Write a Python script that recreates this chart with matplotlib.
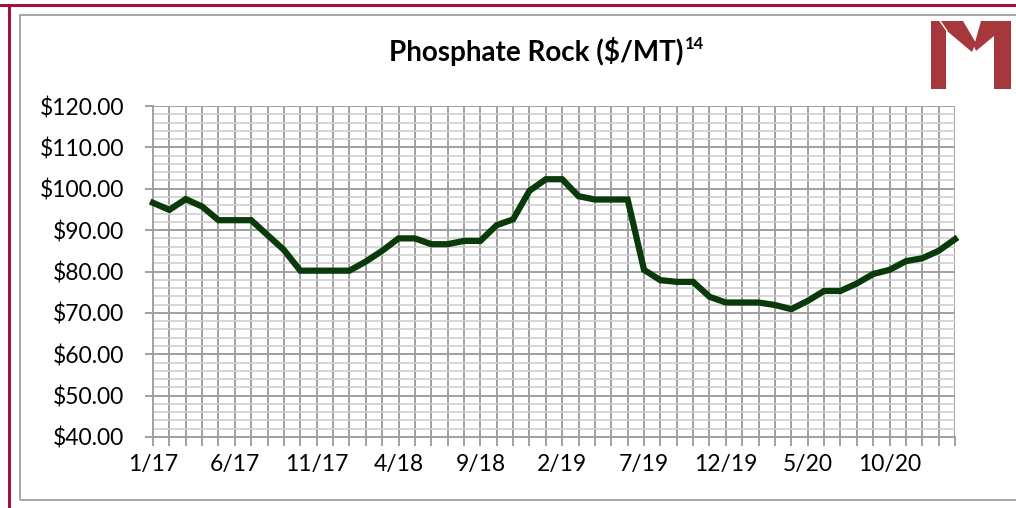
import matplotlib
matplotlib.use("Agg")
import matplotlib.pyplot as plt
from matplotlib.patches import Polygon, Rectangle
from matplotlib.lines import Line2D
from matplotlib.ticker import MultipleLocator, FixedLocator, FuncFormatter

# ---- data ----
months = [f"{m}/{y}" for y in range(17, 22) for m in range(1, 13)][:50]  # 1/17 .. 2/21
prices = [96.6, 94.9, 97.5, 95.7, 92.4, 92.4, 92.4, 88.8, 85.2, 80.2,
          80.2, 80.2, 80.2, 82.4, 85.0, 88.0, 88.0, 86.6, 86.6, 87.4,
          87.4, 91.2, 92.6, 99.5, 102.3, 102.3, 98.2, 97.4, 97.4, 97.4,
          80.4, 77.9, 77.5, 77.5, 73.9, 72.5, 72.5, 72.5, 71.9, 70.9,
          72.9, 75.3, 75.3, 77.1, 79.4, 80.4, 82.5, 83.2, 85.0, 87.8]
label_every = 5
title = "Phosphate Rock ($/MT)"
title_sup = "14"

W, H = 1016, 508
fig = plt.figure(figsize=(W / 100, H / 100), dpi=100)
plt.rcParams['font.family'] = ['Lato', 'DejaVu Sans']

def fx(px):
    return px / W

def fy(py):
    return 1 - py / H

# outer crimson border and inner gray frame
crimson = '#A3123F'
fig.add_artist(Line2D([0, 1], [fy(5), fy(5)], color=crimson, lw=2.2, transform=fig.transFigure))
fig.add_artist(Line2D([fx(9), fx(9)], [0, fy(5)], color=crimson, lw=2.2, transform=fig.transFigure))
fig.add_artist(Rectangle((fx(20), fy(500)), fx(1030) - fx(20), fy(15) - fy(500),
                         fill=False, edgecolor='#A6A6A6', lw=1.4, transform=fig.transFigure))

# logo
logo = '#A6373C'
polys = [
    [(931, 21), (946, 21), (946, 89), (931, 89)],
    [(940, 21), (963, 21), (976, 43), (972, 52), (947, 31)],
    [(981, 21), (1011, 21), (1011, 89), (994, 89), (994, 36), (976, 51), (974, 46)],
]
for p in polys:
    fig.add_artist(Polygon([(fx(a), fy(b)) for a, b in p], closed=True,
                           facecolor=logo, edgecolor='none', transform=fig.transFigure))
fig.add_artist(Line2D([fx(940), fx(947)], [fy(21), fy(31)], color='white', lw=1.0,
                      transform=fig.transFigure))

ax = fig.add_axes([fx(153), fy(437), fx(955) - fx(153), fy(106) - fy(437)])
x = list(range(len(prices)))
ax.set_xlim(0, len(prices) - 1)
ax.set_ylim(40, 120)

ax.yaxis.set_major_locator(MultipleLocator(10))
ax.yaxis.set_minor_locator(MultipleLocator(2))
ax.xaxis.set_major_locator(FixedLocator(x))
ax.xaxis.set_major_formatter(FuncFormatter(
    lambda v, p: months[int(round(v))] if int(round(v)) % label_every == 0 and 0 <= int(round(v)) < len(months) else ""))
ax.yaxis.set_major_formatter(FuncFormatter(lambda v, p: f"${v:.2f}"))

ax.grid(which='minor', axis='y', color='#CFCFCF', lw=1.2)
ax.grid(which='major', axis='y', color='#A0A0A0', lw=1.4)
ax.grid(which='major', axis='x', color='#A0A0A0', lw=1.4)
ax.set_axisbelow(True)

for s in ['top', 'right']:
    ax.spines[s].set_visible(False)
ax.spines['left'].set_color('#A0A0A0')
ax.spines['bottom'].set_color('#A0A0A0')
ax.spines['left'].set_linewidth(1.4)
ax.spines['bottom'].set_linewidth(1.4)

ax.tick_params(axis='y', which='major', length=5.5, width=1.4, color='#A0A0A0',
               labelsize=16.5, pad=15, labelcolor='#000000')
ax.tick_params(axis='y', which='minor', length=0)
ax.tick_params(axis='x', which='major', length=6.5, width=1.4, color='#A0A0A0',
               labelsize=16.5, pad=6, labelcolor='#000000')

ax.plot(x, prices, color='#0A3A0A', lw=4.5, solid_joinstyle='miter', zorder=5, clip_on=False)

t = fig.text(fx(536), fy(52), title, ha='center', va='center', fontsize=20, fontweight='bold')
fig.canvas.draw()
bb = t.get_window_extent(fig.canvas.get_renderer())
fig.text(bb.x1 / W + fx(2), fy(44), title_sup, ha='left', va='center', fontsize=12, fontweight='bold')

fig.savefig("out.png", dpi=100)
